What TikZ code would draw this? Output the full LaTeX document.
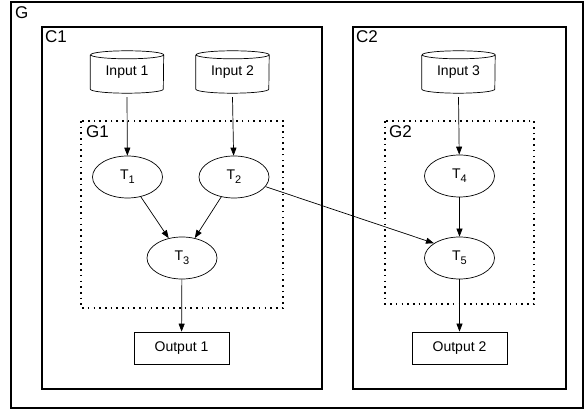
\documentclass[tikz,border=0pt]{standalone}
\usepackage{fontspec}
\setmainfont{Liberation Sans}
\usetikzlibrary{arrows.meta,shapes.geometric}
\newcommand{\tsub}[1]{T\raisebox{-4pt}{\fontsize{11}{11}\selectfont #1}}
\begin{document}
\begin{tikzpicture}[x=1pt,y=-1pt,
  outerbox/.style={draw,line width=1.3pt},
  dotbox/.style={draw,line width=1.4pt,dash pattern=on 1.6pt off 4.1pt},
  lbl/.style={anchor=base west,inner sep=0pt,font=\fontsize{17}{19}\selectfont},
  task/.style={ellipse,draw,line width=0.7pt,minimum width=70pt,minimum height=42pt,inner sep=0pt,font=\fontsize{14}{16}\selectfont},
  dbnode/.style={rectangle,minimum width=73pt,minimum height=42pt,inner sep=0pt,font=\fontsize{14}{16}\selectfont},
  outbox/.style={rectangle,draw,line width=0.7pt,minimum width=95pt,minimum height=32pt,inner sep=0pt,font=\fontsize{14}{16}\selectfont},
  conn/.style={-{Triangle[length=8pt,width=6pt]},line width=0.7pt}
]
\useasboundingbox (0,0) rectangle (586,411);
% boxes
\draw[outerbox] (11,2) rectangle (583,408);
\draw[outerbox] (42,27) rectangle (322,389);
\draw[outerbox] (353,27) rectangle (566,389);
\draw[dotbox] (81,121) rectangle (283,308);
\draw[dotbox] (385,121) rectangle (534,304);
\node[lbl] (lg) at (15,19) {G};
\node[lbl] (lc1) at (45,43) {C1};
\node[lbl] (lc2) at (356,43) {C2};
\node[lbl] (lg1) at (86,138) {G1};
\node[lbl] (lg2) at (389,138) {G2};
% inputs
\node[dbnode] (in1) at (127,72) {Input 1};
\node[dbnode] (in2) at (232.5,72) {Input 2};
\node[dbnode] (in3) at (458.5,72) {Input 3};
\foreach \n in {in1,in2,in3}{
  \draw[line width=0.7pt] ([yshift=-4pt]\n.north west) -- ([yshift=4pt]\n.south west)
    arc[start angle=180,end angle=360,x radius=36.5pt,y radius=4pt]
    -- ([yshift=-4pt]\n.north east)
    arc[start angle=0,end angle=180,x radius=36.5pt,y radius=4pt]
    arc[start angle=180,end angle=360,x radius=36.5pt,y radius=4pt];
}
% tasks
\node[task] (t1) at (127.5,177) {\tsub{1}};
\node[task] (t2) at (234,177) {\tsub{2}};
\node[task] (t3) at (182,258) {\tsub{3}};
\node[task] (t4) at (459.5,176) {\tsub{4}};
\node[task] (t5) at (459.5,258) {\tsub{5}};
% outputs
\node[outbox] (o1) at (181.5,348) {Output 1};
\node[outbox] (o2) at (459.5,348) {Output 2};
% connectors
\draw[conn] ([yshift=-4pt]in1.south) -- (t1);
\draw[conn] ([yshift=-4pt]in2.south) -- (t2);
\draw[conn] ([yshift=-4pt]in3.south) -- (t4);
\draw[conn] (t1) -- (t3);
\draw[conn] (t2) -- (t3);
\draw[conn] (t2.-17) -- (t5.150);
\draw[conn] (t4) -- (t5);
\draw[conn] (t3) -- (o1);
\draw[conn] (t5) -- (o2);
\end{tikzpicture}
\end{document}
